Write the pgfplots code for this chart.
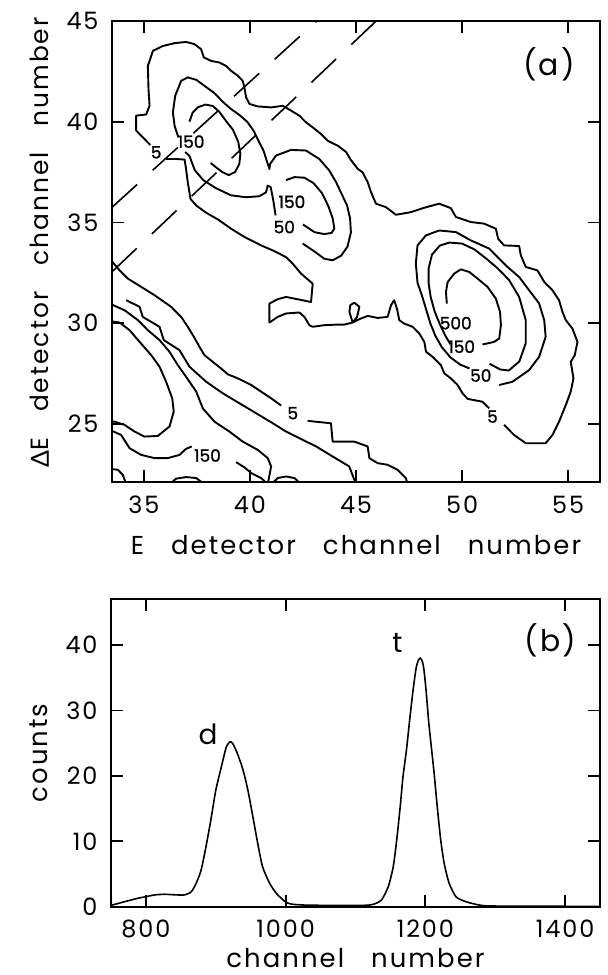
\documentclass[border=0pt]{standalone}
\usepackage{fontspec}
\setmainfont{Poppins}[WordSpace=3.0, LetterSpace=8]
\newfontfamily\greekfont{Lato}[LetterSpace=8]
\newfontfamily\numfont{Poppins}[FakeBold=1.2]
\usepackage{pgfplots}
\pgfplotsset{compat=1.18}

\pgfplotsset{
  panel/.style={
    scale only axis,
    axis line style={line width=2bp},
    every tick/.style={line width=1.8bp, black},
    major tick length=12bp,
    tick align=inside,
    font=\fontsize{26}{30}\selectfont,
    tick label style={font=\fontsize{24}{28}\selectfont},
    /pgf/number format/assume math mode=true,
    /pgf/number format/1000 sep={},
    xticklabel style={yshift=-10bp},
    yticklabel style={xshift=-10bp},
  },
  contour/.style={black, line width=1.9bp, no marks, line join=round},
  cut/.style={black, line width=1.6bp, no marks, dash pattern=on 34bp off 21bp},
}
\newcommand{\clab}[2]{\node[font=\numfont\fontsize{17}{17}\selectfont, inner sep=0pt] at (axis cs:#1) {#2};}

\begin{document}
\begin{tikzpicture}
\useasboundingbox (0,0) rectangle (608bp,975bp);

% ---------------- (a) Delta E - E contour map ----------------
\begin{axis}[panel,
  at={(112bp,492.7bp)}, anchor=south west,
  width=488bp, height=461.3bp,
  xmin=33.5, xmax=56.5, ymin=22.1, ymax=45,
  xtick={35,40,45,50,55}, ytick={25,30,35,40,45},
  xlabel={E detector channel number},
  ylabel={{\greekfont Δ}E detector channel number},
  xlabel style={at={(axis description cs:0.5,-0.137)}, anchor=center},
  ylabel style={at={(axis description cs:-0.148,0.52)}, anchor=center, font=\fontsize{25}{30}\selectfont},
]
% level 5, around the three upper groups
\addplot[contour] coordinates {(35.3,38.85) (34.95,39.23) (34.64,39.56) (34.64,40.30) (35.11,40.36) (35.27,40.79) (35.22,41.62) (35.19,42.77) (35.43,43.52) (35.90,43.76) (36.45,43.90) (36.99,43.96) (37.39,43.85) (37.70,43.60) (37.83,43.19) (38.17,43.02) (38.56,42.94) (38.88,42.77) (39.11,42.53) (39.43,42.28) (39.66,42.03) (39.74,41.70) (39.82,41.21) (39.98,40.88) (40.37,40.76) (41.00,40.71) (41.55,40.79) (41.94,40.55) (42.33,40.30) (42.64,39.97) (42.96,39.72) (43.35,39.39) (43.66,39.06) (44.14,38.81) (44.53,38.50) (44.76,38.10) (45.08,37.66) (45.31,37.49) (45.55,37.00) (45.71,36.50) (45.94,35.93) (46.41,35.76) (46.88,35.38) (47.59,35.51) (48.22,35.73) (48.92,35.93) (49.47,35.71) (49.71,35.27) (50.41,35.02) (51.04,34.94) (51.59,34.69) (51.70,34.19) (51.98,33.86) (52.69,33.83) (52.77,33.36) (53.00,32.79) (53.55,32.62) (53.87,32.05) (54.26,31.63) (54.57,31.14) (54.73,30.56) (54.89,30.15) (55.20,29.73) (55.44,29.07) (55.31,28.41) (55.12,28.08) (55.25,27.26) (55.12,26.60) (54.89,25.94) (54.57,25.11) (54.26,24.45) (53.94,24.04) (53.00,24.04) (52.45,24.45) (51.98,24.95)};
\addplot[contour] coordinates {(51.28,25.77) (50.96,26.10) (50.26,26.24) (50.02,26.52) (49.79,26.93) (49.47,27.26) (49.16,27.51) (49.00,27.92) (48.61,28.33) (48.30,28.58) (48.22,29.07) (47.98,29.49) (47.67,29.82) (47.27,29.98) (47.04,30.15) (46.93,30.72) (46.80,31.14) (46.65,30.89) (46.49,30.31) (46.02,30.26) (45.55,30.36) (45.16,30.20) (44.84,30.03) (44.69,30.56) (44.73,30.89) (44.92,31.02) (45.16,30.81) (45.05,30.31) (44.84,30.03) (44.45,29.93) (44.14,29.93) (43.51,29.90) (42.96,29.82) (42.80,29.90) (42.57,30.31) (42.33,30.53) (41.70,30.48) (41.31,30.31) (40.92,30.03) (40.92,30.97) (41.31,31.19) (41.70,31.30) (42.33,31.17) (42.88,31.05) (42.96,31.96) (42.41,32.46) (42.02,32.95) (41.70,33.28) (41.08,33.61) (40.53,33.86) (40.21,34.03) (39.74,34.28) (39.11,34.69) (38.49,35.15) (37.94,35.48) (37.47,35.84) (37.20,36.17) (37.07,37.00) (36.99,37.66) (36.92,38.12) (36.52,38.15) (36.05,38.15)};
% level 50, around the first two groups
\addplot[contour] coordinates {(36.63,39.22) (36.45,39.80) (36.37,40.46) (36.48,41.29) (36.76,42.03) (37.07,42.20) (37.47,42.08) (37.86,41.78) (38.33,41.42) (38.72,40.99) (39.11,40.63) (39.51,40.33) (39.87,40.00) (40.17,39.56) (40.40,39.06) (40.64,38.57) (40.79,38.07) (40.92,37.65) (40.95,37.90) (41.23,38.32) (41.94,38.60) (42.64,38.57) (43.27,38.15) (43.74,37.58) (44.06,37.00) (44.32,36.42) (44.58,35.84) (44.72,35.20) (44.76,34.50) (44.60,33.80) (44.30,33.35) (43.90,33.12) (43.50,33.20) (43.12,33.50) (42.70,33.80) (42.49,33.95)};
\addplot[contour] coordinates {(41.21,35.35) (41.10,36.10) (40.98,36.75) (40.84,36.83) (40.76,36.50) (40.45,36.30) (39.80,36.25) (39.10,36.35) (38.40,36.70) (37.80,37.10) (37.40,37.60) (37.15,38.30) (36.95,38.50)};
% level 150, first and second groups
\addplot[contour] coordinates {(37.15,40.00) (37.30,40.45) (37.55,40.72) (37.90,40.85) (38.25,40.78) (38.55,40.50) (38.90,40.00) (39.20,39.60) (39.45,39.00) (39.55,38.40) (39.50,37.90) (39.30,37.50) (39.00,37.35) (38.70,37.50) (38.45,37.70) (38.15,37.95)};
\addplot[contour] coordinates {(41.70,37.10) (42.10,37.25) (42.57,37.22) (43.00,36.95) (43.40,36.45) (43.70,35.80) (43.90,35.20) (43.98,34.70) (43.85,34.48) (43.50,34.42) (43.04,34.52) (42.50,34.90)};
% third group: levels 500, 150, 50
\addplot[contour] coordinates {(49.28,30.97) (49.24,31.55) (49.32,32.04) (49.63,32.46) (49.94,32.67) (50.34,32.54) (50.73,32.21) (51.20,31.80) (51.59,31.22) (51.79,30.56) (51.83,29.90) (51.75,29.24) (51.51,29.07) (50.96,28.94)};
\addplot[contour] coordinates {(49.45,28.95) (49.20,29.40) (48.95,29.95) (48.70,30.60) (48.52,31.30) (48.42,32.00) (48.42,32.70) (48.58,33.40) (48.95,33.85) (49.40,34.00) (50.00,33.95) (50.60,33.65) (51.20,33.15) (51.70,32.70) (52.22,32.13) (52.69,31.30) (53.00,30.15) (53.00,29.00) (52.70,28.10) (52.20,27.65) (51.80,27.70) (51.30,27.98)};
\addplot[contour] coordinates {(50.35,27.75) (49.90,27.95) (49.45,28.30) (49.05,28.80) (48.75,29.35) (48.50,30.00) (48.30,30.70) (48.10,31.40) (47.90,32.00) (47.82,32.96) (47.90,33.86) (48.30,34.36) (48.92,34.60) (49.71,34.52) (50.41,34.11) (51.28,33.70) (51.75,33.20) (52.14,32.79) (52.69,32.29) (53.16,31.63) (53.63,30.98) (53.87,30.15) (53.94,29.32) (53.63,28.33) (53.16,27.67) (52.37,27.09) (51.75,26.93)};
% lower left bands
\addplot[contour] coordinates {(33.39,33.20) (33.86,32.62) (34.25,32.21) (34.80,31.85) (35.50,31.39) (36.29,30.81) (36.76,30.31) (37.07,29.82) (37.36,29.32) (37.62,28.83) (37.86,28.41) (38.25,28.08) (38.64,27.75) (38.96,27.46) (39.43,27.26) (40.06,26.93) (40.53,26.60) (41.00,26.27) (41.47,25.91)};
\addplot[contour] coordinates {(42.72,25.15) (43.82,25.03) (43.90,24.12) (44.92,24.12) (45.55,23.88) (45.63,23.30) (46.02,23.05) (46.49,22.97) (46.96,22.72) (47.35,22.31) (47.43,22.00)};
\addplot[contour] coordinates {(34.17,31.14) (34.80,30.81) (34.95,30.31) (35.74,29.82) (35.94,29.16) (36.68,28.66) (37.15,27.84) (37.94,27.09) (38.72,26.52) (39.51,26.02) (40.29,25.53) (41.08,25.03) (41.70,24.62) (42.33,24.29) (43.12,23.88) (43.90,23.38) (44.68,22.89) (45.00,22.00)};
\addplot[contour] coordinates {(33.40,30.97) (34.09,30.64) (34.72,30.15) (35.19,29.65) (35.74,29.16) (36.21,28.58) (36.60,27.92) (36.99,27.34) (37.47,26.60) (37.78,25.77) (38.33,25.11) (39.03,24.62) (39.66,24.12) (40.37,23.71) (40.84,23.30) (41.00,22.89) (40.84,22.00)};
\addplot[contour] coordinates {(33.40,30.10) (33.86,30.03) (34.33,29.65) (34.80,29.07) (35.35,28.41) (35.74,27.84) (36.05,27.09) (36.34,26.27) (36.41,25.61) (36.21,24.87) (35.66,24.40) (35.03,24.37) (34.56,24.62) (34.09,24.95) (33.62,25.11) (33.40,25.11)};
\addplot[contour] coordinates {(33.40,24.70) (33.93,24.45) (34.33,23.79) (34.88,23.46) (35.50,23.30) (36.13,23.30) (36.68,23.46) (36.99,23.76) (37.26,23.88)};
\addplot[contour] coordinates {(39.35,23.10) (39.74,22.84) (40.06,22.56) (40.53,22.31) (40.84,22.00)};
\addplot[contour] coordinates {(33.40,22.77) (33.78,22.72) (34.01,22.47) (34.17,22.00)};
\addplot[contour] coordinates {(36.21,22.00) (36.52,22.28) (37.00,22.36) (37.47,22.31) (37.86,22.00)};
\addplot[contour] coordinates {(41.00,22.00) (41.31,22.31) (41.70,22.39) (42.10,22.31) (42.41,22.00)};
% particle-identification cuts
\addplot[cut] coordinates {(33.5,35.75) (43.15,45)};
\addplot[cut] coordinates {(33.5,32.55) (45.95,45)};
% level labels
\clab{35.58,38.48}{5}
\clab{37.23,39.01}{150}
\clab{41.98,36.02}{150}
\clab{41.62,34.77}{50}
\clab{49.70,30.00}{500}
\clab{49.98,28.83}{150}
\clab{50.88,27.40}{50}
\clab{51.43,25.36}{5}
\clab{42.02,25.53}{5}
\clab{38.00,23.43}{150}
\node[font=\fontsize{30}{30}\selectfont] at (axis cs:54.1,42.86) {(a)};
\end{axis}

% ---------------- (b) projected spectrum ----------------
\begin{axis}[panel,
  at={(111bp,68.3bp)}, anchor=south west,
  width=489bp, height=307.4bp,
  xmin=750, xmax=1450, ymin=0, ymax=47,
  xtick={800,1000,1200,1400}, ytick={0,10,20,30,40},
  xlabel={channel number}, ylabel={counts},
  xlabel style={at={(axis description cs:0.5,-0.168)}, anchor=center},
  ylabel style={at={(axis description cs:-0.148,0.5)}, anchor=center},
]
\addplot[black, line width=1.6bp, no marks, smooth, tension=0.4] coordinates {
(750,0.2) (769,0.75) (788,1.28) (800,1.53) (812,1.79) (826,1.9) (841,1.82) (855,1.8) (865,2.3) (872,3.6) (879,5.6) (886,9.2) (893,13.3) (900,17.8) (908,21.4) (915,24.4) (920,25.2) (924,25.0) (931,23.4) (939,20.9) (946,17.8) (953,13.8) (960,9.7) (967,6.1) (977,3.6) (987,2.0) (999,0.8) (1008,0.4) (1027,0.25) (1060,0.2) (1100,0.18) (1123,0.3) (1137,1.0) (1147,3.1) (1154,6.1) (1159,10.2) (1164,15.3) (1168,19.9) (1173,24.0) (1178,29.0) (1183,33.6) (1187,36.6) (1190,37.7) (1193,38.0) (1196,37.4) (1198,36.2) (1201,33.1) (1205,28.0) (1209,24.0) (1213,19.9) (1217,15.3) (1222,10.2) (1227,6.6) (1234,3.6) (1244,1.5) (1258,0.77) (1277,0.26) (1300,0.1) (1450,0.05)};
\node[font=\fontsize{28}{28}\selectfont] at (axis cs:889,26.4) {d};
\node[font=\fontsize{28}{28}\selectfont] at (axis cs:1160,40.3) {t};
\node[font=\fontsize{30}{30}\selectfont] at (axis cs:1379,40.8) {(b)};
\end{axis}
\end{tikzpicture}
\end{document}
